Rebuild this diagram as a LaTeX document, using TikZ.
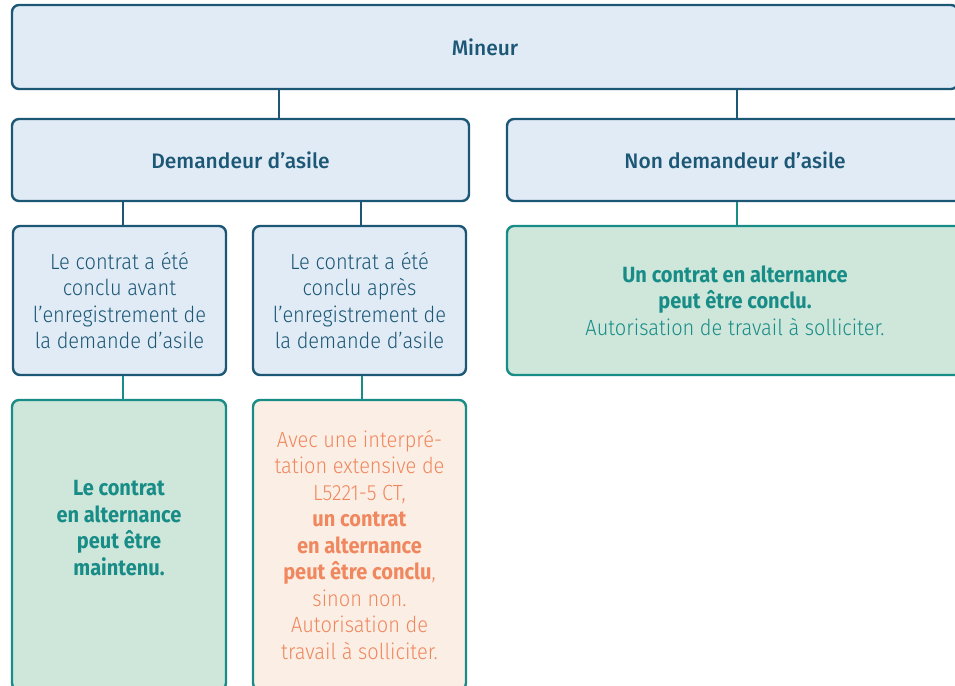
\documentclass[tikz,border=0pt]{standalone}
\usepackage{fontspec}
\setmainfont{Fira Sans}
\newfontfamily\headfont{Fira Sans Medium}
\newfontfamily\bodyfont{Fira Sans Light}[FakeStretch=0.91, BoldFont={Fira Sans Bold}]
\usepackage{tikz}
\definecolor{navyblue}{RGB}{28, 88, 118}
\definecolor{paleblue}{RGB}{225, 235, 246}
\definecolor{tealgreen}{RGB}{24, 140, 134}
\definecolor{palemint}{RGB}{207, 231, 219}
\definecolor{salmon}{RGB}{240, 135, 94}
\definecolor{palepeach}{RGB}{251, 239, 229}

\begin{document}
\begin{tikzpicture}[
    x=1pt, y=-1pt,
    headbox/.style={rectangle, draw=navyblue, fill=paleblue, line width=2.4pt,
                rounded corners=7pt, align=center, text=navyblue,
                font=\headfont\fontsize{21}{25}\selectfont},
    askbox/.style={rectangle, draw=navyblue, fill=paleblue, line width=2.4pt,
                rounded corners=7pt, align=center, text=navyblue,
                font=\bodyfont\fontsize{22}{26.5}\selectfont},
    yesbox/.style={rectangle, draw=tealgreen, fill=palemint, line width=2.4pt,
                rounded corners=7pt, align=center, text=tealgreen,
                font=\bodyfont\fontsize{22}{26.5}\selectfont},
    maybebox/.style={rectangle, draw=tealgreen, fill=palepeach, line width=2.4pt,
                rounded corners=7pt, align=center, text=salmon,
                font=\bodyfont\fontsize{22}{26.5}\selectfont},
    navylink/.style={navyblue, line width=2pt},
    teallink/.style={tealgreen, line width=2pt}
]
    \clip (0,0) rectangle (955,685);

    % first two levels
    \node[headbox, minimum width=946pt, minimum height=84pt] (mineur) at (485,47) {Mineur};
    \node[headbox, minimum width=457pt, minimum height=82pt] (demandeur) at (240.5,160) {Demandeur d’asile};
    \node[headbox, minimum width=456pt, minimum height=82pt] (nondemandeur) at (735,160) {Non demandeur d’asile};

    % when was the contract signed
    \node[askbox, minimum width=213pt, minimum height=149pt] (avant) at (119.5,300.5)
        {Le contrat a été\\conclu avant\\l’enregistrement de\\la demande d’asile};
    \node[askbox, minimum width=213pt, minimum height=149pt] (apres) at (359.5,300.5)
        {Le contrat a été\\conclu après\\l’enregistrement de\\la demande d’asile};
    \node[yesbox, minimum width=456pt, minimum height=149pt] (conclu) at (735,300.5)
        {\textbf{Un contrat en alternance}\\\textbf{peut être conclu.}\\Autorisation de travail à solliciter.};

    % outcomes
    \node[yesbox, minimum width=214pt, minimum height=290pt, text depth=34pt] (maintenu) at (119,545)
        {\textbf{Le contrat}\\\textbf{en alternance}\\\textbf{peut être}\\\textbf{maintenu.}};
    \node[maybebox, minimum width=213pt, minimum height=290pt] (extensive) at (359.5,545)
        {Avec une interpré-\\tation extensive de\\L5221-5 CT,\\\textbf{un contrat}\\\textbf{en alternance}\\\textbf{peut être conclu},\\sinon non.\\Autorisation de\\travail à solliciter.};

    \draw[navylink] ([xshift=38.5pt]demandeur.north) -- ([xshift=38.5pt]demandeur.north |- mineur.south);
    \draw[navylink] ([xshift=2pt]nondemandeur.north) -- ([xshift=2pt]nondemandeur.north |- mineur.south);
    \draw[navylink] ([xshift=3.5pt]avant.north) -- ([xshift=3.5pt]avant.north |- demandeur.south);
    \draw[navylink] ([xshift=1.5pt]apres.north) -- ([xshift=1.5pt]apres.north |- demandeur.south);
    \draw[teallink] ([xshift=2pt]conclu.north) -- ([xshift=2pt]conclu.north |- nondemandeur.south);
    \draw[teallink] ([xshift=4pt]maintenu.north) -- ([xshift=4pt]maintenu.north |- avant.south);
    \draw[teallink] ([xshift=2.5pt]extensive.north) -- ([xshift=2.5pt]extensive.north |- apres.south);
\end{tikzpicture}
\end{document}
